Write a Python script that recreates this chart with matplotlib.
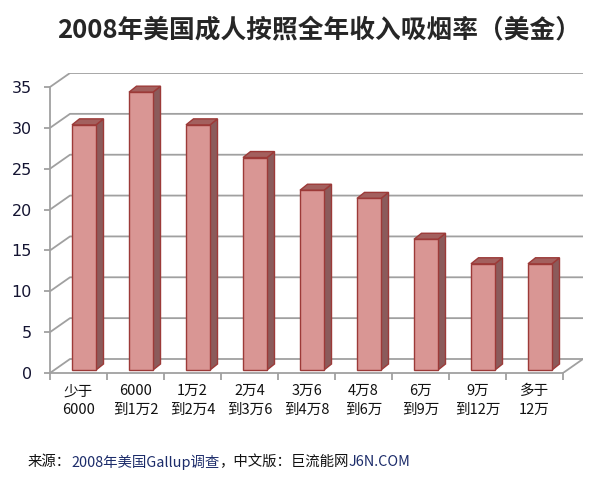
import matplotlib
matplotlib.use("Agg")
import matplotlib.pyplot as plt
from matplotlib.patches import Polygon
import numpy as np

plt.rcParams['font.family'] = ['Noto Sans CJK SC', 'DejaVu Sans']

# 数据
kategorier = ["少于\n6000", "6000\n到1万2", "1万2\n到2万4", "2万4\n到3万6", "3万6\n到4万8",
              "4万8\n到6万", "6万\n到9万", "9万\n到12万", "多于\n12万"]
roykerate = [30, 34, 30, 26, 22, 21, 16, 13, 13]
yverdier = [0, 5, 10, 15, 20, 25, 30, 35]

fig = plt.figure(figsize=(5.98, 4.78), dpi=100)
ax = fig.add_axes([50/598, 105/478, 533/598, 300/478])
px_x = 57.0          # piksler per kategori
px_y = 286/35        # piksler per enhet
ax.set_xlim(0, 533/px_x)
ax.set_ylim(0, 300/px_y)

dx, dy = 20/px_x, 14/px_y        # dybde for bakvegg
gridfarge = "#a0a0a0"

# bakvegg og gulv
for v in yverdier:
    ax.plot([0, dx, 533/px_x], [v, v+dy, v+dy], color=gridfarge, lw=1.3,
            solid_capstyle="butt", zorder=1)
n = len(roykerate)
ax.plot([n, n+dx], [0, dy], color=gridfarge, lw=1.3, zorder=1)

# søyler (3D-effekt)
by = 3/px_y                      # søylas forkant i dybden
bw = 24/px_x
sx, sy = 7.5/px_x, 6/px_y        # søylas egen dybde
kant = "#9c3a38"
for i, h in enumerate(roykerate):
    x0 = i + 22/px_x
    y0 = by
    front = [(x0, y0), (x0+bw, y0), (x0+bw, y0+h), (x0, y0+h)]
    side = [(x0+bw, y0), (x0+bw+sx, y0+sy), (x0+bw+sx, y0+h+sy), (x0+bw, y0+h)]
    top = [(x0, y0+h), (x0+bw, y0+h), (x0+bw+sx, y0+h+sy), (x0+sx, y0+h+sy)]
    ax.add_patch(Polygon(side, closed=True, fc="#8b5b5b", ec=kant, lw=1, zorder=3))
    ax.add_patch(Polygon(top, closed=True, fc="#a3605e", ec=kant, lw=1, zorder=3))
    ax.add_patch(Polygon(front, closed=True, fc="#d99694", ec=kant, lw=1, zorder=4))

# akser
for s in ["top", "right"]:
    ax.spines[s].set_visible(False)
ax.spines["left"].set_bounds(0, 35)
ax.spines["bottom"].set_bounds(0, n)
for s in ["left", "bottom"]:
    ax.spines[s].set_color(gridfarge)
    ax.spines[s].set_linewidth(1.3)

ax.set_yticks(yverdier)
ax.set_yticklabels([str(v) for v in yverdier], family="DejaVu Sans", fontsize=11.5,
                   color="#141432")
ax.tick_params(axis="y", length=4, color=gridfarge, width=1.3, pad=9)

ax.set_xticks(np.arange(n+1), minor=True)
ax.set_xticks(np.arange(n) + 0.5)
ax.set_xticklabels(kategorier, fontsize=10.5, linespacing=1.45, color="#111111",
                   fontweight="medium")
ax.tick_params(axis="x", which="major", length=0, pad=8)
ax.tick_params(axis="x", which="minor", length=5, color=gridfarge, width=1.3)

# tittel
fig.text(0.533, 0.937, "2008年美国成人按照全年收入吸烟率（美金）", ha="center", va="center",
         fontsize=18.5, fontweight="bold", color="#262626")

# kilde
deler = [("来源：", "#111111"), ("2008年美国Gallup调查", "#1c2c6a"),
         ("，中文版：巨流能网", "#111111"), ("J6N.COM", "#1c2c6a")]
renderer = fig.canvas.get_renderer()
x = 28
for tekst, farge in deler:
    t = fig.text(x/598, 1-462/478, tekst, fontsize=10.4, color=farge, va="center")
    x += t.get_window_extent(renderer).width

fig.savefig("out.png", dpi=100)
